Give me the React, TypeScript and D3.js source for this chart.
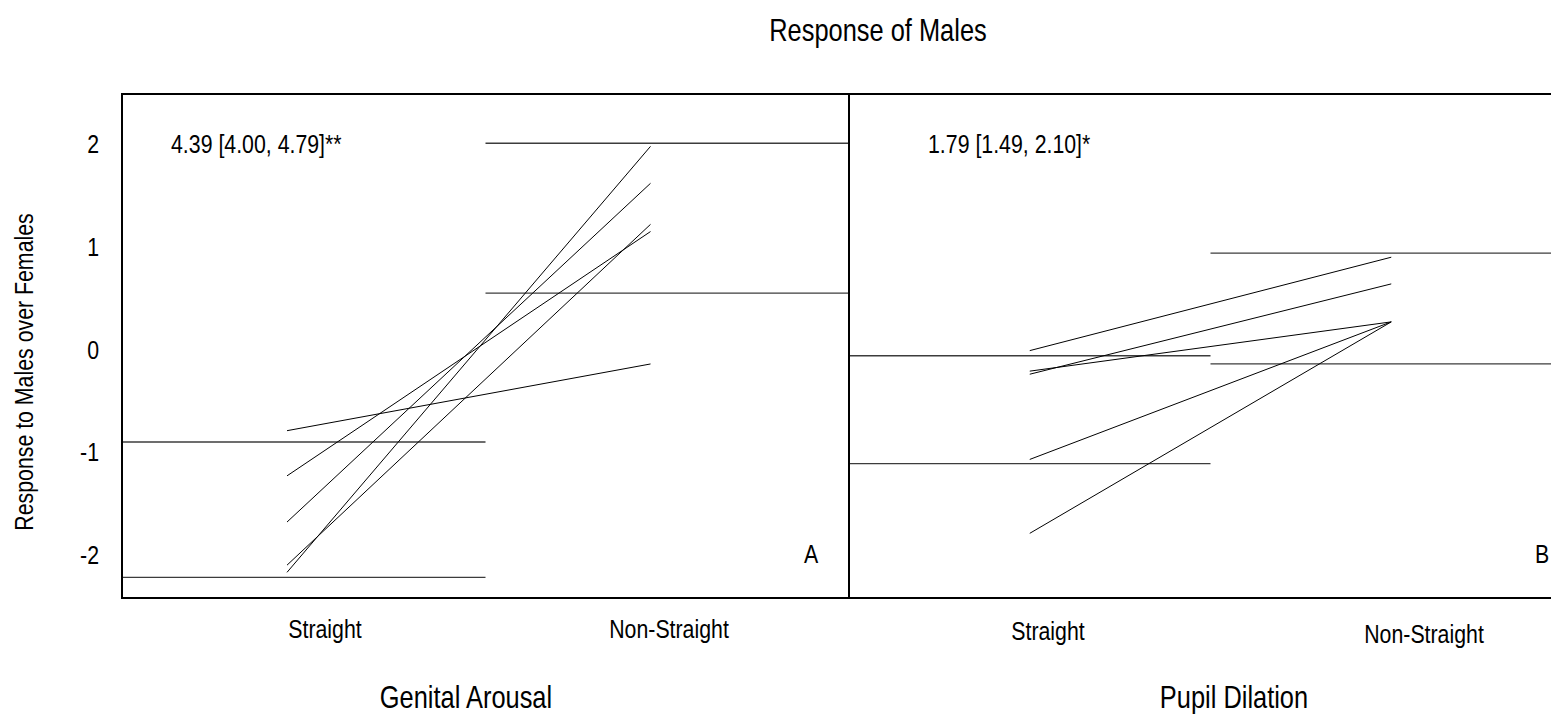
import React from "react";
import * as d3 from "d3";

// Category labels and tick values
const groups = ["Straight", "Non-Straight"];
const yTicks = [2, 1, 0, -1, -2];

// Genital arousal: paired responses (Straight → Non-Straight), one entry per stimulus set
const genitalStraight = [-0.79, -1.23, -1.68, -2.1, -2.17];
const genitalNonStraight = [-0.14, 1.15, 1.62, 1.22, 1.98];
// Reference bounds per group (upper, lower)
const genitalRefStraight = [-0.9, -2.22];
const genitalRefNonStraight = [2.01, 0.55];

// Pupil dilation: paired responses
const pupilStraight = [-0.01, -0.21, -0.24, -1.07, -1.79];
const pupilNonStraight = [0.9, 0.27, 0.64, 0.27, 0.27];
const pupilRefStraight = [-0.06, -1.11];
const pupilRefNonStraight = [0.94, -0.14];

const FONT = "'Liberation Sans', Arial, sans-serif";
const NARROW = 0.82; // condensed look of the chart's typeface
const W = 1551;
const H = 714;
const top = 94;
const bottom = 598;

const y = d3.scaleLinear().domain([-2.42, 2.49]).range([bottom, top]);

// Text drawn with a horizontal squeeze to mimic a narrow sans face
function NText({
  x,
  y: ty,
  size,
  anchor = "start",
  rotate = 0,
  children,
}: {
  x: number;
  y: number;
  size: number;
  anchor?: "start" | "middle" | "end";
  rotate?: number;
  children: React.ReactNode;
}) {
  return (
    <text
      transform={`translate(${x}, ${ty}) rotate(${rotate}) scale(${NARROW}, 1)`}
      fontSize={size}
      fontFamily={FONT}
      textAnchor={anchor}
      fill="#000"
    >
      {children}
    </text>
  );
}

type PanelSpec = {
  x0: number;
  x1: number;
  pointFrac: number;
  straight: number[];
  nonStraight: number[];
  refStraight: number[];
  refNonStraight: number[];
  stat: string;
  statX: number;
  letter: string;
  letterX: number;
  catLabels: { x: number; y: number }[];
  title: string;
  titleX: number;
};

const panels: PanelSpec[] = [
  {
    x0: 122,
    x1: 849,
    pointFrac: 0.454,
    straight: genitalStraight,
    nonStraight: genitalNonStraight,
    refStraight: genitalRefStraight,
    refNonStraight: genitalRefNonStraight,
    stat: "4.39 [4.00, 4.79]**",
    statX: 171,
    letter: "A",
    letterX: 811,
    catLabels: [
      { x: 325, y: 638 },
      { x: 669, y: 638 },
    ],
    title: "Genital Arousal",
    titleX: 466,
  },
  {
    x0: 849,
    x1: 1572,
    pointFrac: 0.5,
    straight: pupilStraight,
    nonStraight: pupilNonStraight,
    refStraight: pupilRefStraight,
    refNonStraight: pupilRefNonStraight,
    stat: "1.79 [1.49, 2.10]*",
    statX: 928,
    letter: "B",
    letterX: 1542,
    catLabels: [
      { x: 1048, y: 640 },
      { x: 1424, y: 643 },
    ],
    title: "Pupil Dilation",
    titleX: 1234,
  },
];

function Panel({ p }: { p: PanelSpec }) {
  const band = d3.scaleBand<string>().domain(groups).range([p.x0, p.x1]).padding(0);
  const px = (g: string) => (band(g) as number) + band.bandwidth() * p.pointFrac;
  const line = d3
    .line<[number, number]>()
    .x((d) => d[0])
    .y((d) => d[1]);

  const pairs = p.straight.map((s, i) => [
    [px(groups[0]), y(s)],
    [px(groups[1]), y(p.nonStraight[i])],
  ] as [number, number][]);

  const refs = [
    ...p.refStraight.map((v) => ({ g: groups[0], v })),
    ...p.refNonStraight.map((v) => ({ g: groups[1], v })),
  ];

  return (
    <g>
      {refs.map((r, i) => {
        const bx = band(r.g) as number;
        return (
          <line
            key={"r" + i}
            x1={bx}
            x2={bx + band.bandwidth()}
            y1={y(r.v)}
            y2={y(r.v)}
            stroke="#3c3c3c"
            strokeWidth={1.3}
          />
        );
      })}
      {pairs.map((d, i) => (
        <path key={"l" + i} d={line(d) || ""} fill="none" stroke="#000" strokeWidth={1} />
      ))}
      <rect
        x={p.x0}
        y={top}
        width={p.x1 - p.x0}
        height={bottom - top}
        fill="none"
        stroke="#000"
        strokeWidth={2}
      />
      <NText x={p.statX} y={y(2) + 9} size={26}>
        {p.stat}
      </NText>
      <NText x={p.letterX} y={563} size={26} anchor="middle">
        {p.letter}
      </NText>
      {groups.map((g, i) => (
        <NText key={g} x={p.catLabels[i].x} y={p.catLabels[i].y} size={26} anchor="middle">
          {g}
        </NText>
      ))}
      <NText x={p.titleX} y={708} size={31} anchor="middle">
        {p.title}
      </NText>
    </g>
  );
}

export default function App() {
  return (
    <div style={{ position: "absolute", left: 0, top: 0, width: W, height: H, overflow: "hidden" }}>
      <svg width={W} height={H} style={{ display: "block", background: "#fff" }}>
        <rect x={0} y={0} width={W} height={H} fill="#fff" />
        <NText x={878} y={41} size={31} anchor="middle">
          Response of Males
        </NText>
        <NText x={33} y={372} size={26} anchor="middle" rotate={-90}>
          Response to Males over Females
        </NText>
        {yTicks.map((t) => (
          <NText key={t} x={99} y={y(t) + 9} size={26} anchor="end">
            {t}
          </NText>
        ))}
        {panels.map((p, i) => (
          <Panel key={i} p={p} />
        ))}
      </svg>
    </div>
  );
}
